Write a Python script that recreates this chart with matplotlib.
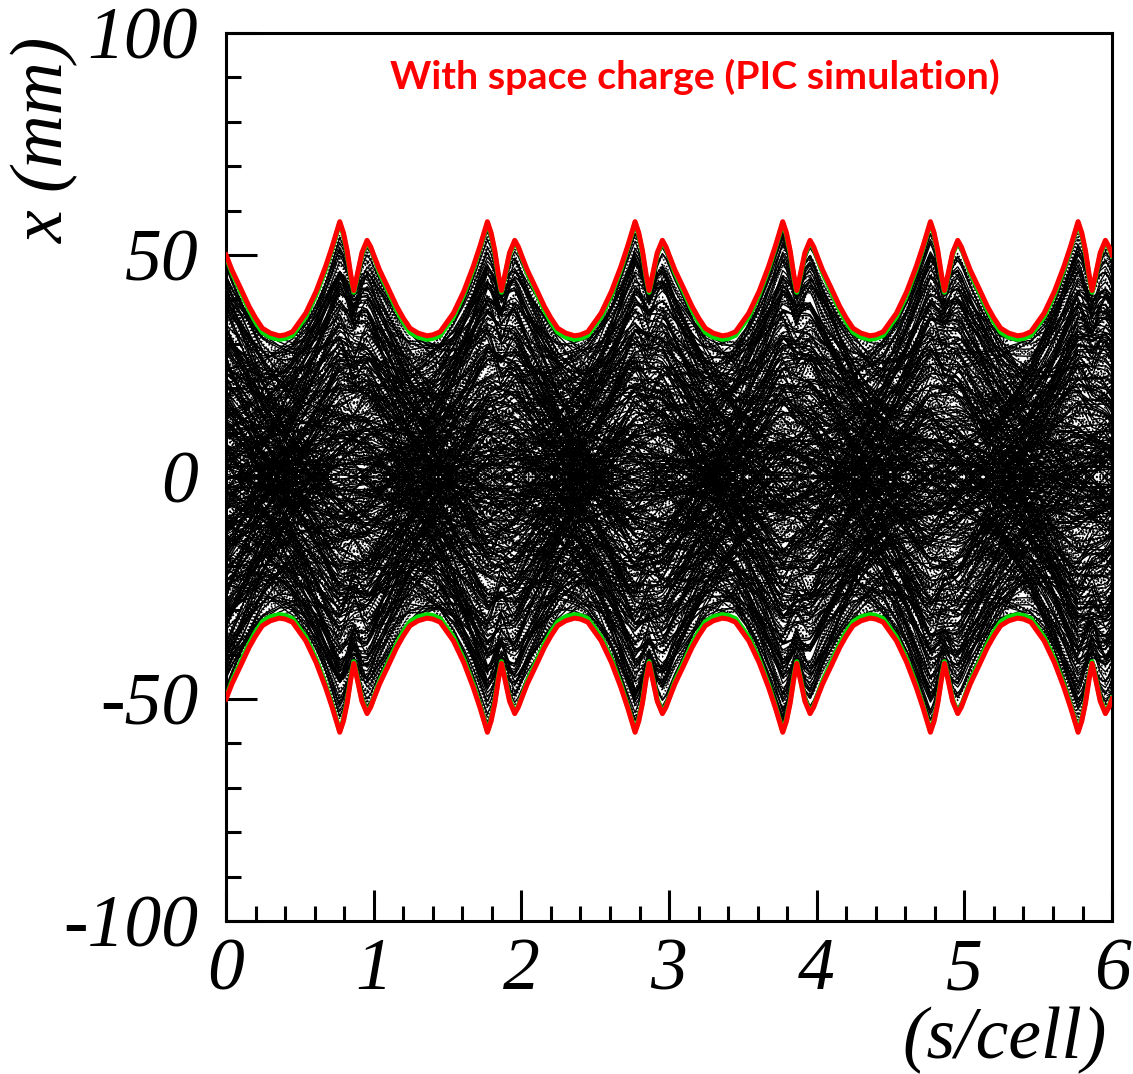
import numpy as np
import matplotlib.pyplot as plt

# -----------------------------------------------------------
# Envelope of one focusing cell (s/cell, mm)
# -----------------------------------------------------------
cell_s   = [0.00, 0.04, 0.10, 0.156, 0.20, 0.246, 0.30, 0.36, 0.40, 0.45,
            0.54, 0.61, 0.674, 0.72, 0.77, 0.795, 0.82, 0.845, 0.865, 0.885,
            0.92, 0.955, 0.98, 1.00]
red_env  = [50.0, 46.6, 42.4, 38.4, 35.8, 33.5, 32.4, 31.8, 32.0, 32.7,
            36.9, 41.8, 47.4, 52.0, 57.5, 55.0, 51.0, 45.5, 42.0, 45.0,
            50.5, 53.3, 51.8, 50.0]
green_env = [49.8, 46.0, 41.7, 37.6, 34.9, 32.6, 31.5, 31.0, 31.2, 31.9,
             36.1, 41.1, 46.8, 51.6, 57.2, 54.6, 50.5, 45.0, 41.6, 44.6,
             50.1, 53.0, 51.5, 49.8]
# core envelope (beam core does not follow the narrow dip)
core_env = [50.0, 46.6, 42.4, 38.4, 35.8, 33.5, 32.4, 31.8, 32.0, 32.7,
            36.9, 41.8, 47.4, 52.0, 55.5, 55.2, 54.9, 54.6, 54.4, 54.2,
            53.9, 53.3, 51.8, 50.0]
n_cells = 6

# -----------------------------------------------------------
# Particle set: betatron amplitude (fraction of envelope),
# start phase (deg) and depressed phase advance per cell (deg)
# -----------------------------------------------------------
amp = [0.99, 0.98, 0.97, 0.97, 0.96, 0.95, 0.94, 0.93, 0.93, 0.92,
       0.91, 0.90, 0.89, 0.88, 0.87, 0.86, 0.85, 0.84, 0.83, 0.82,
       0.81, 0.80, 0.79, 0.78, 0.76, 0.75, 0.74, 0.72, 0.71, 0.70,
       0.68, 0.67, 0.65, 0.64, 0.62, 0.61, 0.59, 0.57, 0.56, 0.54,
       0.52, 0.50, 0.48, 0.46, 0.44, 0.42, 0.40, 0.38, 0.36, 0.33,
       0.31, 0.28, 0.26, 0.23, 0.21, 0.18, 0.15, 0.12, 0.09, 0.06]
phase0 = [12, 57, 101, 148, 203, 251, 299, 338, 24, 77,
          131, 176, 229, 284, 317, 8, 63, 118, 161, 214,
          262, 306, 351, 41, 92, 139, 193, 247, 289, 333,
          19, 71, 124, 181, 236, 278, 322, 49, 97, 158,
          33, 84, 143, 196, 241, 302, 347, 5, 66, 113,
          171, 222, 268, 314, 29, 88, 151, 207, 259, 311]
mu_cell = [96, 71, 103, 64, 88, 110, 59, 93, 77, 101,
           68, 85, 107, 62, 91, 74, 99, 57, 82, 105,
           66, 94, 72, 86, 60, 108, 79, 97, 63, 89,
           75, 102, 58, 84, 69, 95, 61, 106, 80, 73,
           92, 56, 87, 67, 100, 76, 90, 54, 83, 70,
           98, 65, 78, 55, 86, 72, 64, 81, 58, 69]
phase_offsets = [0, 45, 90, 135, 180, 225, 270, 315]

label_text = "With space charge (PIC simulation)"

# -----------------------------------------------------------
# Build curves over all cells
# -----------------------------------------------------------
def repeat_cells(vals):
    return np.concatenate([vals[:-1]] * n_cells + [[vals[-1]]])

cs = np.array(cell_s)
rep_s = np.concatenate([cs[:-1] + k for k in range(n_cells)] + [[n_cells]])
rep_red = repeat_cells(red_env)
rep_green = repeat_cells(green_env)
rep_core = repeat_cells(core_env)

s = np.linspace(0, n_cells, 2401)
env = np.interp(s, rep_s, rep_red)
core = np.interp(s, rep_s, rep_core)
dpsi = 1.0 / core**2
psi = np.concatenate([[0], np.cumsum(0.5 * (dpsi[1:] + dpsi[:-1]) * np.diff(s))])
psi = psi / psi[-1] * n_cells        # in units of cells

plt.rcParams['axes.unicode_minus'] = False
fig = plt.figure(figsize=(11.33, 10.74), dpi=100)
ax = fig.add_axes([0.1995, 0.1425, 0.782, 0.8268])

k = 0
for a, p0, mu in zip(amp, phase0, mu_cell):
    e_part = core - a**6 * (core - env)     # outer particles feel the dip
    for off in phase_offsets:
        x = a * e_part * np.cos(np.radians(mu * psi + p0 + off))
        if k % 2 == 0:
            ax.plot(s, x, color='black', lw=1.3, ls=(0, (0.8, 1.2)))
        else:
            ax.plot(s, x, color='black', lw=1.0)
        k += 1

ax.plot(rep_s, rep_green, color='#00dd00', lw=3.6, zorder=5)
ax.plot(rep_s, -rep_green, color='#00dd00', lw=3.6, zorder=5)
ax.plot(rep_s, rep_red, color='#ff0000', lw=3.6, zorder=6)
ax.plot(rep_s, -rep_red, color='#ff0000', lw=3.6, zorder=6)

ax.set_xlim(0, 6)
ax.set_ylim(-100, 100)
ax.set_xticks(range(7))
ax.set_xticks(np.arange(0, 6.01, 0.2), minor=True)
ax.set_yticks([-100, -50, 0, 50, 100])
ax.set_yticks(np.arange(-100, 101, 10), minor=True)
ax.set_yticklabels(['-100', '-50', '0', '50', '100'])

tick_font = dict(family='Liberation Serif', style='italic', size=53)
for lab in ax.get_xticklabels() + ax.get_yticklabels():
    lab.set_family('Liberation Serif')
    lab.set_style('italic')
    lab.set_size(53)

ax.tick_params(which='both', direction='in', top=False, right=False, width=2.2)
ax.tick_params(which='major', length=22)
ax.tick_params(which='minor', length=11)
ax.tick_params(axis='x', pad=12)
ax.tick_params(axis='y', pad=20)
for sp in ax.spines.values():
    sp.set_linewidth(2.2)

fig.text(0.04, 1 - 140 / 1074, 'x (mm)', rotation=90, ha='center', va='center',
         **tick_font)
fig.text(1005 / 1133, 1 - 1040 / 1074, '(s/cell)', ha='center', va='center',
         **tick_font)
ax.text(0.529, 0.950, label_text, transform=ax.transAxes, color='#ff0000',
        family='Lato', weight='bold', size=28.4, ha='center', va='center')

fig.savefig('out.png', dpi=100)
